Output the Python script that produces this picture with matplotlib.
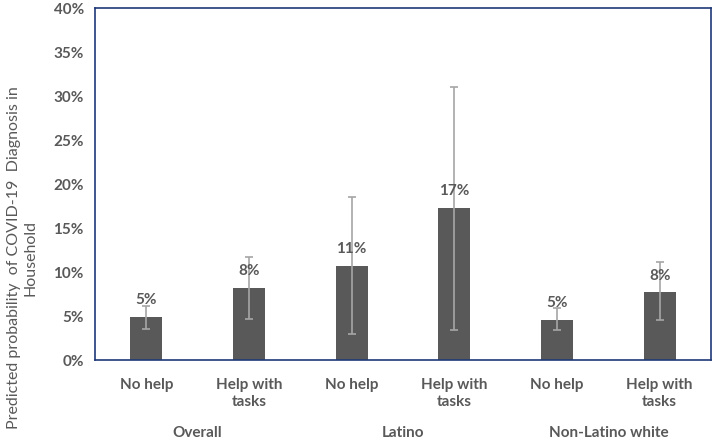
import matplotlib
matplotlib.use("Agg")
import matplotlib.pyplot as plt
import numpy as np
from matplotlib.ticker import PercentFormatter

plt.rcParams["font.family"] = ["Lato", "DejaVu Sans"]

# predicted probabilities (%) and 95% CI bounds
categories = ["No help", "Help with\ntasks", "No help", "Help with\ntasks", "No help", "Help with\ntasks"]
groups = ["Overall", "Latino", "Non-Latino white"]
values = [4.9, 8.2, 10.7, 17.3, 4.6, 7.7]
ci_low = [3.5, 4.7, 3.0, 3.4, 3.4, 4.5]
ci_high = [6.1, 11.7, 18.5, 31.0, 5.9, 11.1]
value_labels = ["5%", "8%", "11%", "17%", "5%", "8%"]

GREY_TXT = "#595959"
BAR = "#595959"
ERR = "#A6A6A6"
FRAME = "#1F3A78"

fig = plt.figure(figsize=(7.14, 4.41), dpi=100)
ax = fig.add_axes([95 / 714, 1 - 360 / 441, 616 / 714, 352 / 441])

x = np.arange(len(values))
vals = np.array(values)
yerr = np.vstack([vals - np.array(ci_low), np.array(ci_high) - vals])
ax.bar(x, vals, width=0.31, color=BAR, zorder=2)
ax.errorbar(x, vals, yerr=yerr, fmt="none", ecolor=ERR, elinewidth=1.2,
            capsize=3, capthick=1.2, zorder=3)

for xi, v, lbl in zip(x, vals, value_labels):
    ax.annotate(lbl, (xi, v), xytext=(0, 12), textcoords="offset points",
                ha="center", va="center", fontsize=11, fontweight="bold", color=GREY_TXT)

ax.set_xlim(-0.5, len(values) - 0.5)
ax.set_ylim(0, 40)
ax.set_yticks(np.arange(0, 41, 5))
ax.yaxis.set_major_formatter(PercentFormatter(decimals=0))
ax.set_xticks(x)
ax.set_xticklabels(categories, linespacing=1.3)
ax.tick_params(axis="both", length=0, labelsize=11, labelcolor=GREY_TXT, pad=8)
ax.tick_params(axis="x", pad=13)
for lab in ax.get_xticklabels() + ax.get_yticklabels():
    lab.set_fontweight("bold")

for sp in ax.spines.values():
    sp.set_color(FRAME)
    sp.set_linewidth(1.2)

# group labels under each pair of bars, kept just inside the bottom edge
trans = ax.get_xaxis_transform()
for i, g in enumerate(groups):
    ax.text(2 * i + 0.5, -0.226, g, transform=trans, ha="center", va="bottom",
            fontsize=11, fontweight="bold", color=GREY_TXT)

fig.text(22 / 714, 1 - 258 / 441,
         "Predicted probability  of COVID-19  Diagnosis in\nHousehold",
         rotation=90, ha="center", va="center", multialignment="center",
         fontsize=11.5, linespacing=1.2, color=GREY_TXT)

fig.savefig("out.png", dpi=100)
